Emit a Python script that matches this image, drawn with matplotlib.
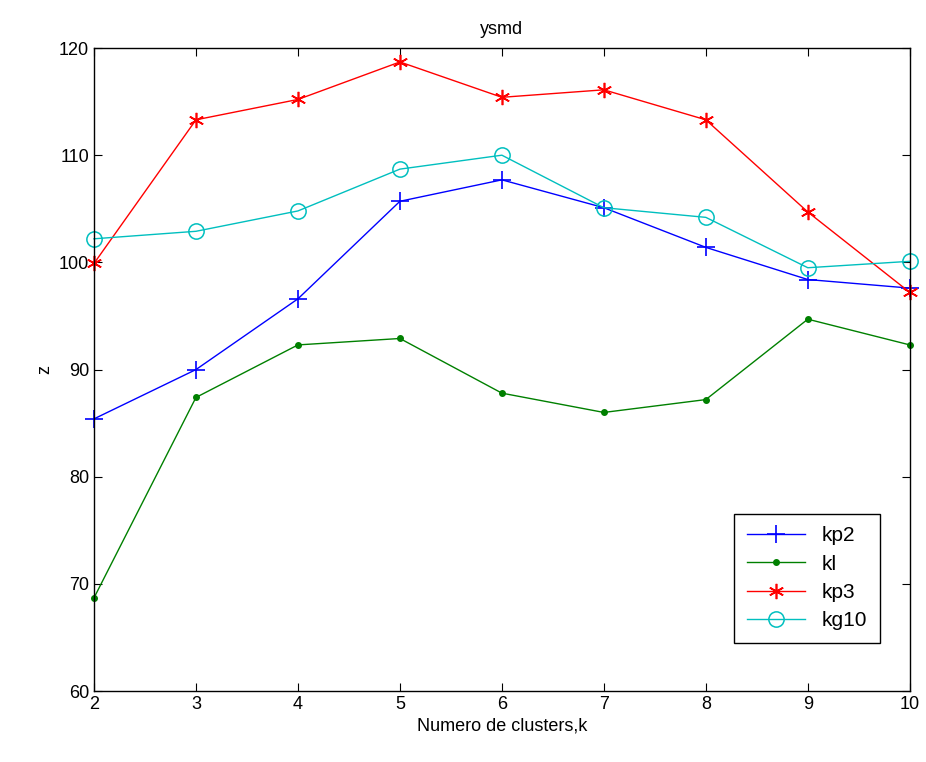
import matplotlib
matplotlib.use('Agg')
from matplotlib import pyplot as plt

# cluster counts and index values per method
k = [2, 3, 4, 5, 6, 7, 8, 9, 10]
kp2 = [85.4, 90.0, 96.6, 105.7, 107.7, 105.1, 101.4, 98.4, 97.6]
kl = [68.7, 87.4, 92.3, 92.9, 87.8, 86.0, 87.2, 94.7, 92.3]
kp3 = [99.9, 113.3, 115.2, 118.7, 115.4, 116.1, 113.3, 104.7, 97.2]
kg10 = [102.2, 102.9, 104.8, 108.7, 110.0, 105.1, 104.2, 99.5, 100.1]

plt.rcParams['font.family'] = ['Liberation Sans', 'DejaVu Sans']
plt.rcParams['font.size'] = 13

fig = plt.figure(figsize=(9.26, 7.62), dpi=100)
ax = fig.add_axes([0.1015, 0.093, 0.881, 0.844])

ax.plot(k, kp2, color='#0000ff', marker='+', markersize=13, markeredgewidth=1.2, lw=1,
        label='kp2', clip_on=False)
ax.plot(k, kl, color='#008000', marker='.', markersize=8, lw=1, label='kl', clip_on=False)
ax.plot(k, kp3, color='#ff0000', marker=(6, 2, 0), markersize=11, markeredgewidth=1.2, lw=1,
        label='kp3', clip_on=False)
ax.plot(k, kg10, color='#00bfbf', marker='o', markersize=11, markerfacecolor='none',
        markeredgewidth=1.1, lw=1, label='kg10', clip_on=False)

ax.set_xlim(2, 10)
ax.set_ylim(60, 120)
ax.set_xticks(k)
ax.set_yticks(range(60, 121, 10))
ax.tick_params(direction='in', top=True, right=True, length=6, labelsize=13)
for s in ax.spines.values():
    s.set_linewidth(1)

ax.set_xlabel('Numero de clusters,k', fontsize=13, labelpad=3)
ax.set_ylabel('z', fontsize=13)
ax.set_title('ysmd', fontsize=13, pad=10)

leg = ax.legend(loc='lower right', bbox_to_anchor=(0.963, 0.075), borderaxespad=0,
                fancybox=False, edgecolor='black', framealpha=1, fontsize=15,
                handlelength=2.8, handletextpad=0.8, borderpad=0.6, labelspacing=0.45)
leg.get_frame().set_linewidth(1)

plt.savefig('out.png', dpi=100)
